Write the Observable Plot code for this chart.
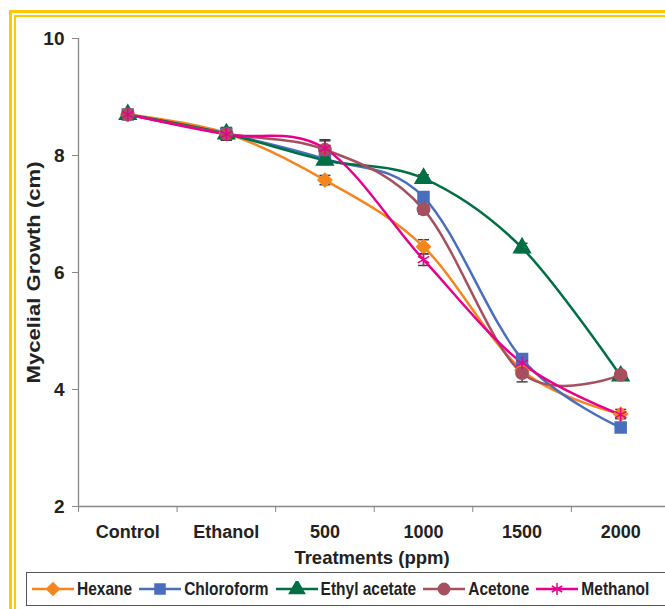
<!DOCTYPE html>
<html><head><meta charset="utf-8">
<script src="https://cdn.jsdelivr.net/npm/d3@7"></script>
<script src="https://cdn.jsdelivr.net/npm/@observablehq/plot@0.6"></script>
<style>
body{margin:0;background:#fff;font-family:"Liberation Sans",Arial,sans-serif;}
#wrap{position:relative;width:665px;height:609px;overflow:hidden;background:#fff;}
#b1{position:absolute;left:9px;top:10px;width:800px;height:800px;border-left:3px solid #FFC800;border-top:3px solid #FFC800;}
#b2{position:absolute;left:14px;top:15px;width:800px;height:800px;border-left:2.5px solid #FFC800;border-top:2.5px solid #FFC800;}
#chart{position:absolute;left:0;top:0}
#legend{position:absolute;left:26px;top:572px;width:760px;height:34px;border:1.5px solid #555;box-sizing:border-box;display:flex;align-items:center;padding-left:5px;font-weight:bold;font-size:15.5px;color:#222;}
.item{display:flex;align-items:center;margin-right:7px;}
.item svg{margin-right:3px;}
.item span{display:inline-block;transform:scaleY(1.2);}
</style>
</head><body>
<div id="wrap"><div id="b1"></div><div id="b2"></div><div id="chart"></div><div id="legend"></div></div>
<script>
const categories = ["Control","Ethanol","500","1000","1500","2000"];
const seriesNames = ["Hexane","Chloroform","Ethyl acetate","Acetone","Methanol"];
const hexane     = [8.70, 8.38, 7.58, 6.44, 4.33, 3.58];
const chloroform = [8.70, 8.37, 7.94, 7.29, 4.52, 3.35];
const ethyl      = [8.70, 8.37, 7.92, 7.61, 6.42, 4.23];
const acetone    = [8.70, 8.37, 8.10, 7.08, 4.28, 4.25];
const methanol   = [8.70, 8.36, 8.12, 6.22, 4.45, 3.57];
const hexaneErr     = [0.03, 0.10, 0.08, 0.12, 0.10, 0.08];
const chloroformErr = [0.03, 0.10, 0.08, 0.07, 0.08, 0.08];
const ethylErr      = [0.03, 0.10, 0.05, 0.06, 0.08, 0.05];
const acetoneErr    = [0.03, 0.10, 0.15, 0.08, 0.15, 0.05];
const methanolErr   = [0.03, 0.10, 0.15, 0.10, 0.10, 0.05];
const yTicks = [2,4,6,8,10];
const colors = ["#F5861F","#4A6EBE","#007044","#A6505F","#E8008A"];
const symbols = ["diamond2","square","triangle","circle","asterisk"];

const values = [hexane, chloroform, ethyl, acetone, methanol];
const errors = [hexaneErr, chloroformErr, ethylErr, acetoneErr, methanolErr];
const rows = [];
seriesNames.forEach((s,k)=> values[k].forEach((v,i)=> rows.push({series:s, i, v, e:errors[k][i]})));

const cap = {draw(ctx, size){ const w = Math.sqrt(size)/2; ctx.moveTo(-w,0); ctx.lineTo(w,0); }};

const plot = Plot.plot({
  width:665, height:570, marginLeft:78, marginRight:0, marginTop:38, marginBottom:64,
  style:{fontFamily:"'Liberation Sans', Arial, sans-serif", fontWeight:"bold", color:"#222", background:"transparent"},
  x:{domain:[-0.5, categories.length - 0.545]},
  y:{domain:[2,10]},
  color:{domain:seriesNames, range:colors},
  symbol:{domain:seriesNames, range:symbols},
  marks:[
    Plot.ruleY([2],{stroke:"#888", strokeWidth:1.3}),
    Plot.ruleX([-0.5],{stroke:"#888", strokeWidth:1.3}),
    Plot.axisY({ticks:yTicks, tickSize:6, tickPadding:8, fontSize:19, stroke:"#888", label:null}),
    Plot.axisX({ticks:d3.range(categories.length+1).map(i=>i-0.5), tickFormat:()=>"", tickSize:6, stroke:"#888", label:null}),
    Plot.axisX({ticks:d3.range(categories.length), tickFormat:i=>categories[i], tickSize:0, tickPadding:19, fontSize:18, label:null}),
    Plot.text(["Treatments (ppm)"], {frameAnchor:"bottom", lineAnchor:"middle", dy:52, fontSize:18.5, fontWeight:"bold", fill:"#222"}),
    Plot.text(["Mycelial Growth (cm)"], {frameAnchor:"left", textAnchor:"middle", lineAnchor:"middle", rotate:-90, dx:-45, fontSize:19, fontWeight:"bold", fill:"#222", className:"ylab"}),
    Plot.ruleX(rows,{x:"i", y1:d=>d.v-d.e, y2:d=>d.v+d.e, stroke:"#3a3a3a", strokeWidth:1.4}),
    Plot.dot(rows,{x:"i", y:d=>d.v+d.e, symbol:cap, r:6.2, stroke:"#3a3a3a", strokeWidth:1.4}),
    Plot.dot(rows,{x:"i", y:d=>d.v-d.e, symbol:cap, r:6.2, stroke:"#3a3a3a", strokeWidth:1.4}),
    Plot.line(rows,{x:"i", y:"v", z:"series", stroke:"series", curve:"cardinal", strokeWidth:2.5}),
    Plot.dot(rows,{x:"i", y:"v", symbol:"series", fill:"series", stroke:"series", strokeWidth:1.5, r:6.2})
  ]
});
document.getElementById("chart").appendChild(plot);
// stretch the rotated y-axis title along its length, as in the reference
d3.select(plot).selectAll("g.ylab text").attr("textLength", 222).attr("lengthAdjust", "spacingAndGlyphs");

// legend
const legend = d3.select("#legend");
const symMap = {diamond2:d3.symbolDiamond2, square:d3.symbolSquare, triangle:d3.symbolTriangle, circle:d3.symbolCircle, asterisk:d3.symbolAsterisk};
seriesNames.forEach((s,k)=>{
  const it = legend.append("div").attr("class","item");
  const svg = it.append("svg").attr("width",42).attr("height",16);
  svg.append("line").attr("x1",0).attr("x2",42).attr("y1",8).attr("y2",8).attr("stroke",colors[k]).attr("stroke-width",2.5);
  svg.append("path").attr("transform","translate(21,8)").attr("d",d3.symbol(symMap[symbols[k]], 100)())
    .attr("fill",colors[k]).attr("stroke",colors[k]).attr("stroke-width",1.5);
  it.append("span").text(s);
});
</script>
</body></html>
